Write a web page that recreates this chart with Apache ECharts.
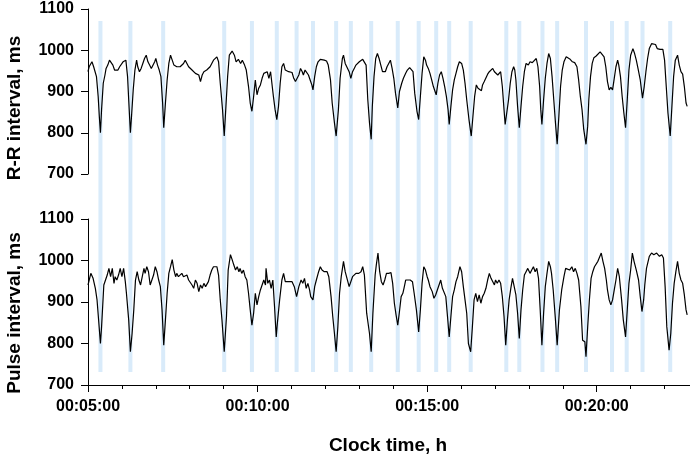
<!DOCTYPE html>
<html><head><meta charset="utf-8">
<script src="https://cdn.jsdelivr.net/npm/echarts@6/dist/echarts.min.js"></script>
<style>html,body{margin:0;padding:0;background:#fff}#c{width:690px;height:458px}</style>
</head><body><div id="c"></div>
<script>
// Clock time in seconds since 00:00:00
const bandTimes = [322,375,433,541,590,634,669,698,739,765,801,848,885,916,939,977,1040,1063,1104,1130,1181,1227,1253,1281,1330];

const rrData = [
[300,948],[302,960],[304,964],[307,972],[310,960],[312,956],[315,936],[318,888],[320,840],[322,800],[324,856],[327,920],[330,940],[332,956],[335,964],[338,976],[341,972],[344,964],[347,952],[350,956],[353,952],[356,960],[359,964],[362,972],[365,968],[367,976],[370,936],[372,880],[375,800],[377,840],[380,904],[383,952],[386,976],[388,960],[391,948],[394,956],[397,968],[400,980],[403,988],[406,972],[409,964],[412,956],[415,960],[418,972],[420,980],[423,964],[426,952],[429,936],[432,872],[434,812],[437,872],[440,928],[443,968],[446,988],[449,976],[452,964],[454,960],[457,960],[460,956],[463,960],[466,956],[469,968],[472,976],[475,968],[478,960],[481,956],[484,952],[487,948],[490,944],[493,948],[496,940],[499,924],[502,940],[505,948],[508,944],[510,952],[513,948],[516,960],[519,968],[522,976],[525,976],[528,984],[531,972],[534,920],[538,856],[541,792],[544,864],[547,936],[550,988],
[555,998],[559,988],[562,972],[566,978],[570,968],[573,976],[577,964],[580,952],[584,912],[587,872],[590,852],[593,888],[596,928],[599,892],[602,908],[605,916],[608,932],[611,944],[614,948],[617,948],[620,932],[623,948],[626,948],[628,888],[631,856],[634,832],[637,864],[640,920],[643,960],[646,968],[649,952],[652,952],[655,948],[658,944],[661,946],[664,932],[667,924],[670,924],[673,940],[676,956],[679,948],[681,940],[684,952],[687,948],[690,940],[693,928],[696,916],[698,904],[701,936],[704,960],[707,972],[711,978],[714,980],[718,976],[722,974],[725,964],[729,928],[732,872],[736,824],[739,792],[743,856],[746,932],[750,980],[752,988],[755,968],[758,968],[762,948],[765,932],[768,948],[771,956],[774,964],[777,968],[780,972],[783,974],[786,978],[789,980],[792,964],[795,880],[798,824],[801,784],[803,864],[806,936],[809,980],[812,992],[815,980],[818,964],[821,948],[824,952],[826,948],[829,960],[832,968],[835,976],[838,956],[841,932],[844,896],[848,860],[851,900],[855,920],[858,932],[862,944],[865,952],[869,958],[872,960],[875,948],[878,896],[882,852],[885,832],[888,888],[891,944],[894,984],[897,976],[899,964],[902,956],[905,944],[908,928],[911,912],[914,900],[916,892],[919,920],[922,940],[925,948],[928,932],[931,912],[934,888],[937,856],[939,820],[942,864],[945,904],[948,928],[951,944],[954,960],[957,972],
[961,968],[964,952],[967,920],[970,880],[974,832],[978,792],[981,840],[984,888],[987,916],[990,908],[993,912],[996,902],[998,916],[1001,924],[1004,928],[1007,942],[1010,948],[1013,952],[1016,956],[1019,948],[1022,952],[1025,940],[1028,944],[1030,948],[1033,912],[1036,856],[1038,820],[1041,824],[1044,880],[1047,920],[1050,948],[1053,960],[1055,952],[1057,928],[1060,864],[1063,812],[1066,864],[1069,912],[1072,948],[1075,968],[1079,964],[1082,972],[1086,970],[1089,972],[1093,980],[1096,960],[1099,912],[1101,856],[1103,820],[1106,880],[1109,932],[1112,968],[1115,992],[1118,980],[1121,936],[1124,880],[1127,824],[1130,772],[1133,840],[1136,912],[1139,952],[1142,972],[1146,984],[1149,988],[1153,978],[1157,972],[1161,970],[1165,960],[1168,928],[1171,888],[1174,856],[1177,808],[1181,772],[1184,816],[1186,880],[1189,936],[1192,968],[1195,982],[1199,986],[1202,990],[1206,996],[1209,992],[1213,984],[1216,960],[1219,924],[1222,904],[1225,910],[1228,904],[1231,932],[1234,960],[1237,976],[1239,964],[1242,936],[1245,888],[1248,848],[1251,812],[1254,880],[1257,952],[1260,988],[1264,1004],[1267,992],[1270,976],[1273,956],[1277,928],[1281,884],[1284,912],[1287,948],[1290,980],[1293,1004],[1297,1016],[1300,1020],[1304,1014],[1307,1004],[1312,1002],[1317,1002],[1320,976],[1323,912],[1326,848],[1330,792],[1333,864],[1336,936],[1339,976],[1343,988],[1346,964],[1349,948],[1352,942],[1355,912],[1358,872],[1360,864]
];

const pulseData = [
[300,941],[305,969],[309,957],[313,933],[316,905],[322,800],[324,840],[328,941],[331,953],[334,965],[337,981],[340,961],[343,981],[346,945],[348,961],[351,953],[354,965],[357,981],[360,961],[363,981],[366,949],[368,921],[372,857],[375,780],[378,824],[381,881],[384,953],[387,973],[390,953],[393,941],[396,961],[399,981],[401,969],[404,985],[407,973],[410,941],[413,953],[416,965],[419,985],[422,973],[425,953],[428,937],[431,881],[434,796],[437,857],[440,921],[443,969],[446,985],[449,1002],[452,977],[455,961],[457,969],[460,961],[463,957],[466,969],[469,961],[472,965],[475,965],[478,953],[481,949],[484,941],[487,933],[490,953],[493,945],[496,925],[499,941],[502,933],[505,945],[508,937],[510,941],[513,949],[516,965],[519,977],[522,985],[525,981],[528,985],[531,965],[534,905],[537,857],[541,780],[545,865],[548,977],[552,1014],
[555,1002],[558,989],[561,977],[564,985],[567,973],[569,981],[572,969],[575,977],[578,961],[581,953],[584,921],[587,881],[590,844],[593,873],[596,921],[599,893],[602,913],[605,929],[608,941],[611,953],[614,941],[615,981],[618,945],[621,953],[624,933],[627,953],[630,889],[633,816],[635,849],[639,905],[643,953],[646,969],[649,949],[652,953],[655,949],[658,945],[661,949],[665,937],[669,913],[673,937],[677,953],[680,945],[683,957],[686,933],[689,945],[692,929],[694,913],[698,905],[701,937],[704,953],[708,973],[711,985],[714,977],[718,973],[723,973],[726,961],[730,913],[733,865],[736,824],[739,780],[742,840],[745,921],[748,961],[752,998],[755,973],[758,969],[762,937],[765,941],[768,961],[771,957],[774,969],[779,969],[783,973],[786,985],[789,965],[793,873],[798,824],[801,780],[804,873],[808,965],[810,989],[813,1018],[816,973],[819,949],[822,941],[825,953],[828,969],[832,969],[836,971],[839,945],[842,897],[845,869],[848,844],[851,877],[854,913],[857,921],[859,933],[862,953],[866,953],[870,953],[874,949],[877,921],[881,881],[885,828],[888,881],[891,945],[894,985],[897,977],[900,961],[902,953],[905,937],[909,925],[912,909],[915,917],[918,929],[921,933],[924,953],[927,933],[930,933],[933,913],[936,865],[939,816],[942,865],[945,913],[948,929],[951,949],[954,961],
[958,985],[961,973],[964,937],[967,905],[970,873],[973,800],[977,780],[980,840],[983,905],[986,921],[989,901],[992,917],[995,897],[998,913],[1001,921],[1004,933],[1007,953],[1010,969],[1013,957],[1016,953],[1019,941],[1021,953],[1024,945],[1027,953],[1030,945],[1033,913],[1036,865],[1039,796],[1042,857],[1045,905],[1048,933],[1051,957],[1054,953],[1057,917],[1060,873],[1063,812],[1066,881],[1069,929],[1072,965],[1075,973],[1078,981],[1082,969],[1085,977],[1088,985],[1091,973],[1094,981],[1097,957],[1100,881],[1103,796],[1106,873],[1109,937],[1112,969],[1115,998],[1118,985],[1120,969],[1123,929],[1127,857],[1130,796],[1134,881],[1138,929],[1142,961],[1145,981],[1148,985],[1152,977],[1156,985],[1159,973],[1162,981],[1165,969],[1168,953],[1172,889],[1175,808],[1179,804],[1181,768],[1184,840],[1187,905],[1190,957],[1193,973],[1196,985],[1199,989],[1202,998],[1205,1002],[1208,1018],[1211,998],[1214,981],[1217,953],[1219,929],[1222,905],[1225,893],[1228,905],[1231,929],[1234,953],[1237,981],[1240,961],[1244,905],[1247,857],[1251,816],[1254,881],[1257,945],[1260,977],[1263,1018],[1266,998],[1270,977],[1274,953],[1277,913],[1280,877],[1283,905],[1285,941],[1288,981],[1293,1010],[1297,1018],[1301,1014],[1306,1018],[1311,1010],[1315,1014],[1318,1006],[1321,937],[1324,840],[1328,784],[1331,824],[1334,897],[1337,945],[1340,973],[1343,998],[1346,969],[1349,953],[1352,945],[1355,917],[1358,881],[1360,869]
];

const yMin = 700, yMax = 1100, yStep = 100;
const xMin = 300, xMax = 1365, xMajor = 300, xMinor = 60;
const yTitleTop = 'R-R interval, ms';
const yTitleBottom = 'Pulse interval, ms';
const xTitle = 'Clock time, h';

const FONT = 'Liberation Sans, Arial, sans-serif';
function fmt(v) {
  const h = Math.floor(v / 3600), m = Math.floor((v % 3600) / 60), s = Math.round(v % 60);
  const p = n => (n < 10 ? '0' : '') + n;
  return p(h) + ':' + p(m) + ':' + p(s);
}
const GL = 88, GR = 0;

const yAxisBase = (gi) => ({
  type: 'value', gridIndex: gi, min: yMin, max: yMax, interval: yStep,
  axisLine: { show: true, lineStyle: { color: '#000', width: 1 } },
  axisTick: { show: true, length: 7, lineStyle: { color: '#000' } },
  axisLabel: { fontSize: 16, fontWeight: 'bold', color: '#000', fontFamily: FONT, margin: 14, formatter: v => String(v) },
  splitLine: { show: false }
});

const chart = echarts.init(document.getElementById('c'), null, { renderer: 'canvas' });
chart.setOption({
  animation: false,
  backgroundColor: '#fff',
  grid: [
    { left: GL, right: GR, top: 9, height: 165 },
    { left: GL, right: GR, top: 219, height: 166 },
    { left: GL, right: GR, top: 21, height: 351 }
  ],
  xAxis: [
    { type: 'value', gridIndex: 0, min: xMin, max: xMax, interval: xMajor, show: false },
    // labelled axis with major ticks
    { type: 'value', gridIndex: 1, min: xMin, max: xMax, interval: xMajor, position: 'bottom',
      axisLine: { show: true, onZero: false, lineStyle: { color: '#000', width: 1 } },
      axisTick: { show: true, length: 7, lineStyle: { color: '#000' } },
      axisLabel: { fontSize: 16, fontWeight: 'bold', color: '#000', fontFamily: FONT, margin: 14, formatter: fmt, showMaxLabel: false },
      splitLine: { show: false }
    },
    { type: 'value', gridIndex: 2, min: xMin, max: xMax, show: false },
    // minute ticks
    { type: 'value', gridIndex: 1, min: xMin, max: xMax, interval: xMinor, position: 'bottom', offset: 0,
      axisLine: { show: false, onZero: false },
      axisTick: { show: true, length: 4, lineStyle: { color: '#000' } },
      axisLabel: { show: false },
      splitLine: { show: false }
    }
  ],
  yAxis: [
    yAxisBase(0),
    yAxisBase(1),
    { type: 'value', gridIndex: 2, min: 0, max: 1, show: false }
  ],
  graphic: [
    { type: 'text', x: 15, y: 108, rotation: Math.PI / 2,
      style: { text: yTitleTop, font: 'bold 19px ' + FONT, fill: '#000', textAlign: 'center', textVerticalAlign: 'middle' } },
    { type: 'text', x: 15, y: 313, rotation: Math.PI / 2,
      style: { text: yTitleBottom, font: 'bold 19px ' + FONT, fill: '#000', textAlign: 'center', textVerticalAlign: 'middle' } },
    { type: 'text', x: 388, y: 446,
      style: { text: xTitle, font: 'bold 19px ' + FONT, fill: '#000', textAlign: 'center', textVerticalAlign: 'middle' } }
  ],
  series: [
    { type: 'bar', xAxisIndex: 2, yAxisIndex: 2, data: bandTimes.map(t => [t, 1]),
      barWidth: 4, itemStyle: { color: '#d9ebfa' }, z: 1, silent: true },
    { type: 'line', xAxisIndex: 0, yAxisIndex: 0, data: rrData, symbol: 'none', showSymbol: false,
      lineStyle: { color: '#000', width: 1.2 }, z: 3, silent: true },
    { type: 'line', xAxisIndex: 1, yAxisIndex: 1, data: pulseData, symbol: 'none', showSymbol: false,
      lineStyle: { color: '#000', width: 1.2 }, z: 3, silent: true }
  ]
});
</script></body></html>
